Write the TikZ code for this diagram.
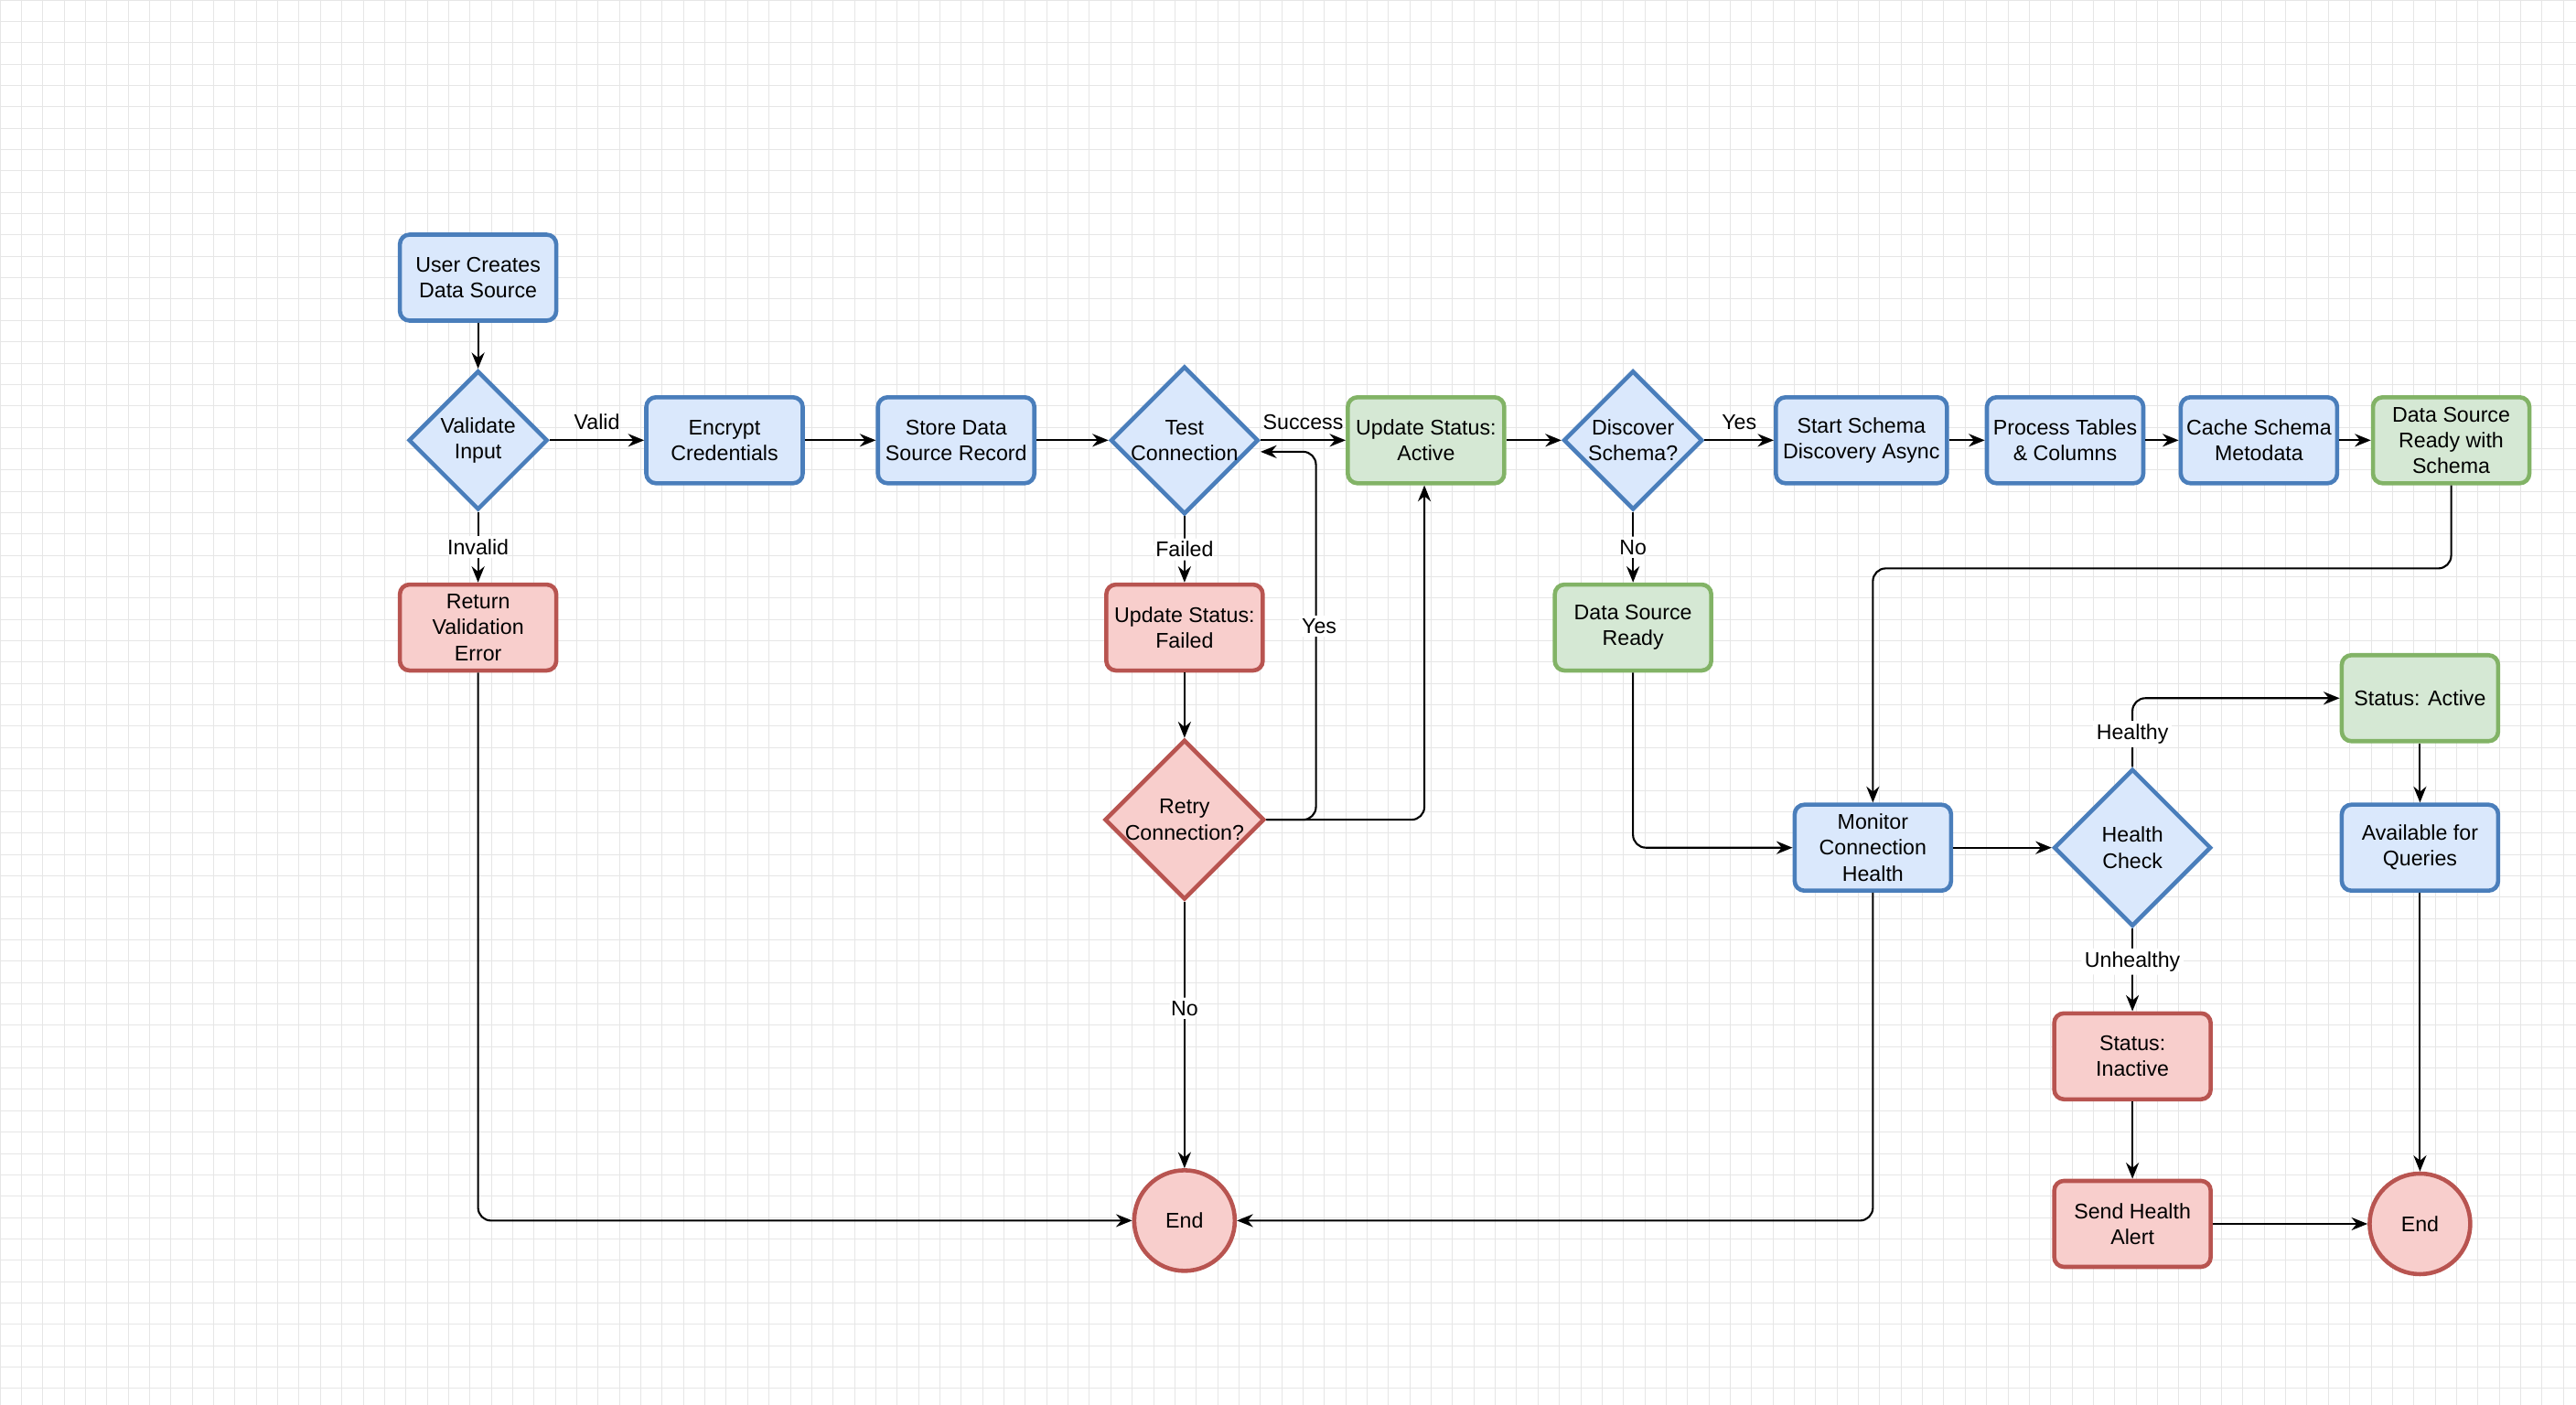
\documentclass[tikz,border=0pt]{standalone}
\usepackage{fontspec}
\setmainfont{Liberation Sans}
\usetikzlibrary{shapes.geometric, positioning, arrows.meta}
\definecolor{blueF}{HTML}{DAE8FC}
\definecolor{blueD}{HTML}{4A7EBB}
\definecolor{greenF}{HTML}{D5E8D4}
\definecolor{greenD}{HTML}{82B366}
\definecolor{redF}{HTML}{F8CECC}
\definecolor{redD}{HTML}{B85450}
\definecolor{gridC}{HTML}{E6E6E6}
\tikzset{
    base/.style={draw, line width=1.3pt, font=\fontsize{6.6}{8}\selectfont, align=center, inner sep=1pt},
    box/.style={base, rounded corners=3pt, minimum width=1.71cm, minimum height=0.94cm},
    dia/.style={base, diamond, minimum width=1.52cm, minimum height=1.52cm, inner sep=0pt},
    circ/.style={base, circle, minimum size=1.1cm},
    blue/.style={fill=blueF, draw=blueD},
    green/.style={fill=greenF, draw=greenD},
    red/.style={fill=redF, draw=redD},
    link/.style={-{Stealth[length=5pt,width=4pt]}, line width=0.6pt, rounded corners=4pt},
    lbl/.style={font=\fontsize{6.6}{8}\selectfont, fill=white, inner sep=1pt},
}
\begin{document}
\begin{tikzpicture}[x=0.01796cm, y=-0.01796cm]
    \useasboundingbox (0,0) rectangle (1568,855);
    \draw[gridC, line width=0.25pt, step=0.2335cm] (0,0) grid (1568,855);

    % main row
    \node[box, blue] (start) at (291,169) {User Creates\\Data Source};
    \node[dia, blue] (validate) at (291,268) {Validate\\Input};
    \node[box, blue] (encrypt) at (441,268) {Encrypt\\Credentials};
    \node[box, blue] (store) at (582,268) {Store Data\\Source Record};
    \node[dia, blue] (test) at (721,268) {Test\\Connection};
    \node[box, green] (active) at (868,268) {Update Status:\\Active};
    \node[dia, blue] (discover) at (994,268) {Discover\\Schema?};
    \node[box, blue, minimum width=1.87cm] (schema) at (1133,268) {Start Schema\\Discovery Async};
    \node[box, blue] (process) at (1257,268) {Process Tables\\\& Columns};
    \node[box, blue] (cache) at (1375,268) {Cache Schema\\Metodata};
    \node[box, green] (ready) at (1492,268) {Data Source\\Ready with\\Schema};

    % lower part
    \node[box, red] (error) at (291,382) {Return\\Validation\\Error};
    \node[box, red] (failed) at (721,382) {Update Status:\\Failed};
    \node[dia, red, minimum width=1.7cm, minimum height=1.7cm] (retry) at (721,499) {Retry\\Connection?};
    \node[box, green] (dsready) at (994,382) {Data Source\\Ready};
    \node[box, blue] (monitor) at (1140,516) {Monitor\\Connection\\Health};
    \node[dia, blue, minimum width=1.72cm, minimum height=1.72cm] (health) at (1298,516) {Health\\Check};
    \node[box, green] (stActive) at (1473,425) {Status: Active};
    \node[box, blue] (avail) at (1473,516) {Available for\\Queries};
    \node[box, red] (inactive) at (1298,643) {Status:\\Inactive};
    \node[box, red] (alert) at (1298,745) {Send Health\\Alert};
    \node[circ, red] (end1) at (721,743) {End};
    \node[circ, red] (end2) at (1473,745) {End};

    % connectors
    \draw[link] (start) -- (validate);
    \draw[link] (validate) -- (encrypt) node[midway, above=2pt, lbl, fill=none] {Valid};
    \draw[link] (validate) -- (error) node[midway, lbl] {Invalid};
    \draw[link] (encrypt) -- (store);
    \draw[link] (store) -- (test);
    \draw[link] (test) -- (active) node[midway, above=2pt, lbl, fill=none] {Success};
    \draw[link] (test) -- (failed) node[midway, lbl] {Failed};
    \draw[link] (failed) -- (retry);
    \draw[link] (retry.east) -- (801,499) -- (801,275) -- (test.east |- 0,275);
    \node[lbl] at (803,381) {Yes};
    \draw[link] (retry.east) -- (867,499) -- (active.south -| 867,0);
    \draw[link] (retry) -- (end1) node[pos=0.4, lbl] {No};
    \draw[link] (error.south) -- (291,743) -- (end1.west);
    \draw[link] (active) -- (discover);
    \draw[link] (discover) -- (schema) node[midway, above=2pt, lbl, fill=none] {Yes};
    \draw[link] (discover) -- (dsready) node[midway, lbl] {No};
    \draw[link] (schema) -- (process);
    \draw[link] (process) -- (cache);
    \draw[link] (cache) -- (ready);
    \draw[link] (ready.south) -- (1492,346) -- (1140,346) -- (monitor.north);
    \draw[link] (dsready.south) -- (994,516) -- (monitor.west);
    \draw[link] (monitor) -- (health);
    \draw[link] (monitor.south) -- (1140,743) -- (end1.east);
    \draw[link] (health.north) -- (1298,425) -- (stActive.west);
    \node[lbl] at (1298,447) {Healthy};
    \draw[link] (health) -- (inactive) node[pos=0.4, lbl] {Unhealthy};
    \draw[link] (stActive) -- (avail);
    \draw[link] (avail) -- (end2);
    \draw[link] (inactive) -- (alert);
    \draw[link] (alert) -- (end2);
\end{tikzpicture}
\end{document}
